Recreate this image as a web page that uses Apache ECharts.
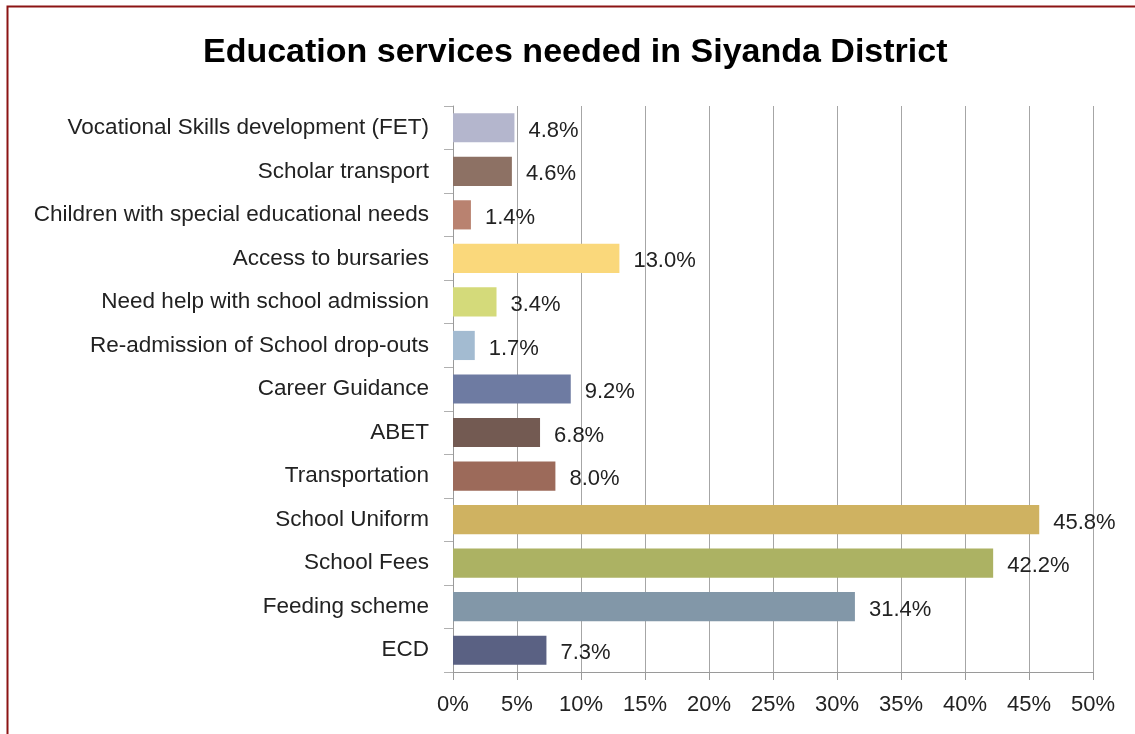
<!DOCTYPE html>
<html>
<head>
<meta charset="utf-8">
<script src="https://cdn.jsdelivr.net/npm/echarts@6/dist/echarts.min.js"></script>
<style>
  html, body { margin: 0; padding: 0; background: #ffffff; }
  #chart { width: 1135px; height: 734px; }
</style>
</head>
<body>
<div id="chart"></div>
<script>
// Services, listed top to bottom as shown
const categories = [
  'Vocational Skills development (FET)',
  'Scholar transport',
  'Children with special educational needs',
  'Access to bursaries',
  'Need help with school admission',
  'Re-admission of School drop-outs',
  'Career Guidance',
  'ABET',
  'Transportation',
  'School Uniform',
  'School Fees',
  'Feeding scheme',
  'ECD'
];

// Share of respondents needing each service (%)
const values = [4.8, 4.6, 1.4, 13.0, 3.4, 1.7, 9.2, 6.8, 8.0, 45.8, 42.2, 31.4, 7.3];

// One fill per bar
const barColors = [
  '#B4B6CD', '#8D7164', '#B98270', '#FAD87B', '#D4DA7A', '#A3BBD1', '#6E7BA2',
  '#735A52', '#9C6A5A', '#CFB261', '#ACB263', '#8297A8', '#5A6183'
];

// Value axis ticks (%)
const xTicks = [0, 5, 10, 15, 20, 25, 30, 35, 40, 45, 50];

const FONT = '"Liberation Sans", Arial, sans-serif';
const chart = echarts.init(document.getElementById('chart'), null, { renderer: 'canvas' });

chart.setOption({
  backgroundColor: '#ffffff',
  animation: false,
  title: {
    text: 'Education services needed in Siyanda District',
    left: 198,
    top: 31,
    textStyle: { fontFamily: FONT, fontSize: 34, fontWeight: 'bold', color: '#000000' }
  },
  graphic: [{
    type: 'rect',
    shape: { x: 7.5, y: 6.5, width: 1200, height: 800 },
    style: { fill: 'none', stroke: '#8C1414', lineWidth: 2 },
    silent: true
  }],
  grid: { left: 453, top: 106, width: 640, height: 566, containLabel: false },
  xAxis: {
    type: 'value',
    min: xTicks[0],
    max: xTicks[xTicks.length - 1],
    interval: xTicks[1] - xTicks[0],
    axisLine: { show: true, lineStyle: { color: '#9a9a9a', width: 1 } },
    axisTick: { show: true, length: 8, lineStyle: { color: '#9a9a9a' } },
    splitLine: { show: true, lineStyle: { color: '#a6a6a6', width: 1 } },
    axisLabel: {
      margin: 22,
      fontFamily: FONT, fontSize: 22, color: '#222222',
      formatter: v => v + '%'
    }
  },
  yAxis: {
    type: 'category',
    data: categories,
    inverse: true,
    axisLine: { show: true, lineStyle: { color: '#9a9a9a', width: 1 } },
    axisTick: { show: true, length: 9, lineStyle: { color: '#b0b0b0' } },
    axisLabel: { margin: 24, fontFamily: FONT, fontSize: 22.5, color: '#222222' }
  },
  series: [{
    type: 'bar',
    data: values.map((v, i) => ({ value: v, itemStyle: { color: barColors[i] } })),
    barCategoryGap: '33%',
    label: {
      show: true,
      position: 'right',
      distance: 14,
      offset: [0, 3],
      fontFamily: FONT, fontSize: 22, color: '#222222',
      formatter: p => p.value.toFixed(1) + '%'
    }
  }]
});
</script>
</body>
</html>
